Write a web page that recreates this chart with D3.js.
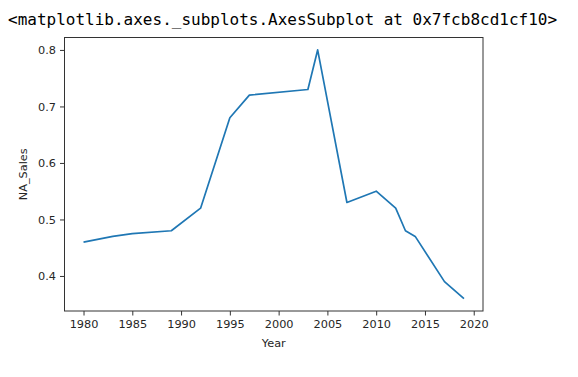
<!DOCTYPE html>
<html>
<head>
<meta charset="utf-8">
<script src="https://cdn.jsdelivr.net/npm/d3@7"></script>
<style>
  body { margin: 0; background: #fff; }
  .hdr { font-family: "DejaVu Sans Mono", monospace; font-size: 16px; fill: #000; }
  .axis text { font-family: "DejaVu Sans", sans-serif; font-size: 11.3px; fill: #262626; }
  .axis path, .axis line { stroke: #333; }
  .lbl { font-family: "DejaVu Sans", sans-serif; font-size: 11.3px; fill: #262626; }
</style>
</head>
<body>
<div class="chart"></div>
<script>
var years = [1980, 1983, 1985, 1989, 1992, 1995, 1997, 2003, 2004, 2007, 2010, 2012, 2013, 2014, 2017, 2019];
var naSales = [0.46, 0.47, 0.475, 0.48, 0.52, 0.68, 0.72, 0.73, 0.80, 0.53, 0.55, 0.52, 0.48, 0.47, 0.39, 0.36];
var xTicks = [1980, 1985, 1990, 1995, 2000, 2005, 2010, 2015, 2020];
var yTicks = [0.4, 0.5, 0.6, 0.7, 0.8];

var points = years.map(function(y, i) {
  return { year: y, value: naSales[i] };
});

var svg = d3.select('.chart').append('svg')
  .attr('width', 578)
  .attr('height', 377);

svg.append('text')
  .attr('class', 'hdr')
  .attr('x', 8)
  .attr('y', 25)
  .text('<matplotlib.axes._subplots.AxesSubplot at 0x7fcb8cd1cf10>');

var plotLeft = 64.5, plotRight = 483, plotTop = 37.5, plotBottom = 311;

// matplotlib-style 5% margins
var xMin = d3.min(years), xMax = d3.max(years);
var xPad = (xMax - xMin) * 0.05;
var yMin = d3.min(naSales), yMax = d3.max(naSales);
var yPad = (yMax - yMin) * 0.05;

var x = d3.scaleLinear().domain([xMin - xPad, xMax + xPad]).range([plotLeft, plotRight]);
var y = d3.scaleLinear().domain([yMin - yPad, yMax + yPad]).range([plotBottom, plotTop]);

var line = d3.line()
  .x(function(d) { return x(d.year); })
  .y(function(d) { return y(d.value); });

svg.append('path')
  .datum(points)
  .attr('fill', 'none')
  .attr('stroke', '#1f77b4')
  .attr('stroke-width', 1.7)
  .attr('stroke-linejoin', 'round')
  .attr('d', line);

svg.append('g')
  .attr('class', 'axis')
  .attr('transform', 'translate(0,' + plotBottom + ')')
  .call(d3.axisBottom(x).tickValues(xTicks).tickFormat(d3.format('d')).tickSize(4.5).tickPadding(4))
  .call(function(g) { g.select('.domain').remove(); });

svg.append('g')
  .attr('class', 'axis')
  .attr('transform', 'translate(' + plotLeft + ',0)')
  .call(d3.axisLeft(y).tickValues(yTicks).tickFormat(d3.format('.1f')).tickSize(4.5).tickPadding(4))
  .call(function(g) { g.select('.domain').remove(); });

// frame
svg.append('rect')
  .attr('x', plotLeft)
  .attr('y', plotTop)
  .attr('width', plotRight - plotLeft)
  .attr('height', plotBottom - plotTop)
  .attr('fill', 'none')
  .attr('stroke', '#333')
  .attr('stroke-width', 1);

svg.append('text')
  .attr('class', 'lbl')
  .attr('x', (plotLeft + plotRight) / 2)
  .attr('y', 347)
  .attr('text-anchor', 'middle')
  .text('Year');

svg.append('text')
  .attr('class', 'lbl')
  .attr('transform', 'translate(27,' + ((plotTop + plotBottom) / 2) + ') rotate(-90)')
  .attr('text-anchor', 'middle')
  .text('NA_Sales');
</script>
</body>
</html>
